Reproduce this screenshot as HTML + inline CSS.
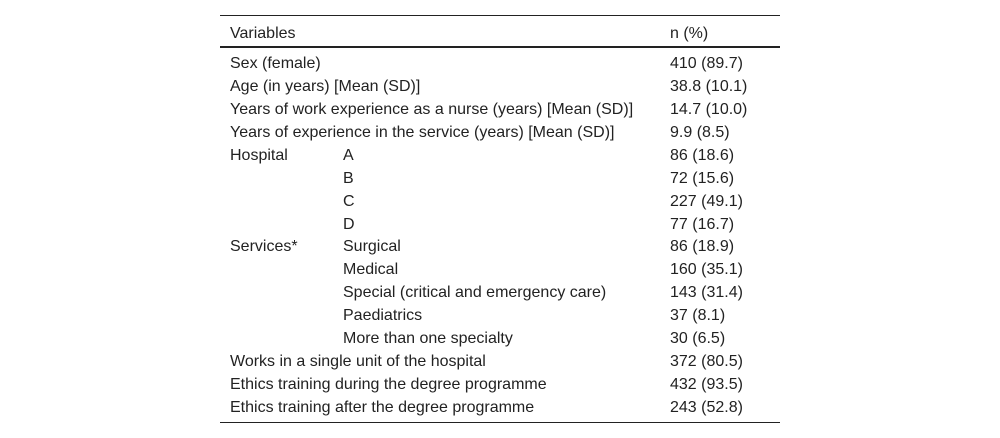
<!DOCTYPE html>
<html><head><meta charset="utf-8"><style>
html,body{margin:0;padding:0;background:#fff;width:1000px;height:438px;overflow:hidden}
body{font-family:"Liberation Sans",Arial,sans-serif;font-size:16px;color:#222;position:relative}
.rule{position:absolute;left:220px;width:560px;background:#222}
.t{position:absolute;white-space:nowrap;line-height:18px}
</style></head><body>
<div class="rule" style="top:15px;height:1px"></div>
<div class="rule" style="top:46px;height:2px"></div>
<div class="rule" style="top:422px;height:1px"></div>
<div class="t" style="left:230px;top:25px">Variables</div>
<div class="t" style="left:670px;top:25px">n (%)</div>
<div id="rows"></div>
<script>
const c1=["Sex (female)","Age (in years) [Mean (SD)]","Years of work experience as a nurse (years) [Mean (SD)]","Years of experience in the service (years) [Mean (SD)]","Hospital","","","","Services*","","","","","Works in a single unit of the hospital","Ethics training during the degree programme","Ethics training after the degree programme"];
const c2=["","","","","A","B","C","D","Surgical","Medical","Special (critical and emergency care)","Paediatrics","More than one specialty","","",""];
const c3=["410 (89.7)","38.8 (10.1)","14.7 (10.0)","9.9 (8.5)","86 (18.6)","72 (15.6)","227 (49.1)","77 (16.7)","86 (18.9)","160 (35.1)","143 (31.4)","37 (8.1)","30 (6.5)","372 (80.5)","432 (93.5)","243 (52.8)"];
const host=document.getElementById('rows');
c1.forEach((v,i)=>{
  const top=55+i*22.93;
  [[v,230,'row-label'],[c2[i],343,'row-sublabel'],[c3[i],670,'row-value']].forEach(([txt,x,nm])=>{
    if(!txt)return;
    const d=document.createElement('div');
    d.className='t';
    d.style.left=x+'px';d.style.top=top+'px';
    d.textContent=txt;
    
    
    host.appendChild(d);
  });
});
</script>
</body></html>
